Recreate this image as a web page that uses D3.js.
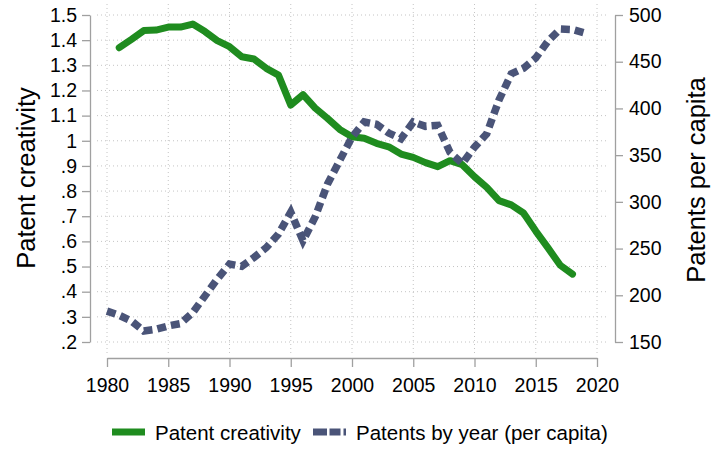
<!DOCTYPE html>
<html>
<head>
<meta charset="utf-8">
<script src="https://cdn.jsdelivr.net/npm/d3@7"></script>
<style>
  body { margin: 0; background: #fff; }
  svg { font-family: "Liberation Sans", Arial, sans-serif; }
</style>
</head>
<body>
<div class="chart"></div>
<script>
// years and values
var creativityYears = d3.range(1981, 2019)
var creativity = [1.37, 1.403, 1.438, 1.44, 1.452, 1.452, 1.464, 1.434, 1.398, 1.374,
  1.334, 1.325, 1.288, 1.261, 1.142, 1.183, 1.13, 1.089, 1.045, 1.016,
  1.01, 0.99, 0.976, 0.947, 0.934, 0.913, 0.897, 0.921, 0.905, 0.857,
  0.815, 0.762, 0.745, 0.713, 0.641, 0.574, 0.505, 0.47]

var patentYears = d3.range(1980, 2020)
var patents = [183, 178.6, 172.5, 161.8, 163.6, 167.2, 169.7, 181.5, 199.4, 217.3,
  233.4, 231, 240.5, 251, 265.6, 289, 258.4, 284, 319, 344.3,
  369.4, 385.5, 383, 373.6, 367.6, 385.5, 380.8, 381.9, 353, 341,
  358.6, 373, 409, 437, 443, 454, 472, 485, 484.4, 480.7]

var xTicks = [1980, 1985, 1990, 1995, 2000, 2005, 2010, 2015, 2020]
var leftTicks = [0.2, 0.3, 0.4, 0.5, 0.6, 0.7, 0.8, 0.9, 1.0, 1.1, 1.2, 1.3, 1.4, 1.5]
var rightTicks = [150, 200, 250, 300, 350, 400, 450, 500]
var legendLabels = ["Patent creativity", "Patents by year (per capita)"]

document.addEventListener("DOMContentLoaded", draw)

function draw(){
  var width = 711, height = 451
  var green = "#1f8c1f", navy = "#4a5478", axisGrey = "#a0a0a0"

  var svg = d3.select(".chart").append("svg")
    .attr("width", width)
    .attr("height", height)

  var x = d3.scaleLinear().domain([1980, 2020]).range([107, 597])
  var yL = d3.scaleLinear().domain([0.2, 1.5]).range([342, 15])
  var yR = d3.scaleLinear().domain([150, 500]).range([342, 15])

  // dotted grid
  var grid = svg.append("g")
  grid.selectAll(".hg").data(leftTicks).enter().append("line")
    .attr("x1", 97).attr("x2", 609)
    .attr("y1", d => yL(d)).attr("y2", d => yL(d))
  grid.selectAll(".vg").data(xTicks).enter().append("line")
    .attr("x1", d => x(d)).attr("x2", d => x(d))
    .attr("y1", 4).attr("y2", 353)
  grid.selectAll("line")
    .attr("stroke", "#c4c4c4")
    .attr("stroke-width", 1)
    .attr("stroke-dasharray", "1,3")

  function leftFmt(d){
    var s = d3.format(".1f")(d)
    if (s.slice(-2) == ".0") s = s.slice(0, -2)
    return s.replace(/^0\./, ".")
  }

  var axL = svg.append("g").attr("transform", "translate(90,0)")
    .call(d3.axisLeft(yL).tickValues(leftTicks).tickFormat(leftFmt).tickSize(8).tickSizeOuter(0).tickPadding(5))
  var axR = svg.append("g").attr("transform", "translate(615,0)")
    .call(d3.axisRight(yR).tickValues(rightTicks).tickSize(8).tickSizeOuter(0).tickPadding(6))
  var axB = svg.append("g").attr("transform", "translate(0,358)")
    .call(d3.axisBottom(x).tickValues(xTicks).tickFormat(d3.format("d")).tickSize(9).tickSizeOuter(0).tickPadding(11))

  ;[axL, axR, axB].forEach(function(a){
    a.selectAll("path, line").attr("stroke", axisGrey).attr("stroke-width", 1.3)
    a.selectAll("text").attr("fill", "#000").style("font-size", "19.5px")
  })

  // axis titles
  svg.append("text")
    .attr("transform", "translate(35,178) rotate(-90)")
    .attr("text-anchor", "middle")
    .style("font-size", "25.5px")
    .text("Patent creativity")
  svg.append("text")
    .attr("transform", "translate(705,180) rotate(-90)")
    .attr("text-anchor", "middle")
    .style("font-size", "25.5px")
    .text("Patents per capita")

  var lineL = d3.line().x((d, i) => x(creativityYears[i])).y(d => yL(d))
  var lineR = d3.line().x((d, i) => x(patentYears[i])).y(d => yR(d))

  svg.append("path").datum(creativity)
    .attr("d", lineL)
    .attr("fill", "none")
    .attr("stroke", green)
    .attr("stroke-width", 7)
    .attr("stroke-linejoin", "round")
    .attr("stroke-linecap", "round")

  svg.append("path").datum(patents)
    .attr("d", lineR)
    .attr("fill", "none")
    .attr("stroke", navy)
    .attr("stroke-width", 7.5)
    .attr("stroke-dasharray", "9,5")

  // legend
  var leg = svg.append("g")
  leg.append("line")
    .attr("x1", 112).attr("x2", 145).attr("y1", 432).attr("y2", 432)
    .attr("stroke", green).attr("stroke-width", 7)
  leg.append("text").attr("x", 155).attr("y", 440)
    .style("font-size", "20.5px").text(legendLabels[0])
  leg.append("line")
    .attr("x1", 313).attr("x2", 346).attr("y1", 432).attr("y2", 432)
    .attr("stroke", navy).attr("stroke-width", 7)
    .attr("stroke-dasharray", "14,2.5,11,3")
  leg.append("text").attr("x", 356).attr("y", 440)
    .style("font-size", "20.5px").text(legendLabels[1])
}
</script>
</body>
</html>
